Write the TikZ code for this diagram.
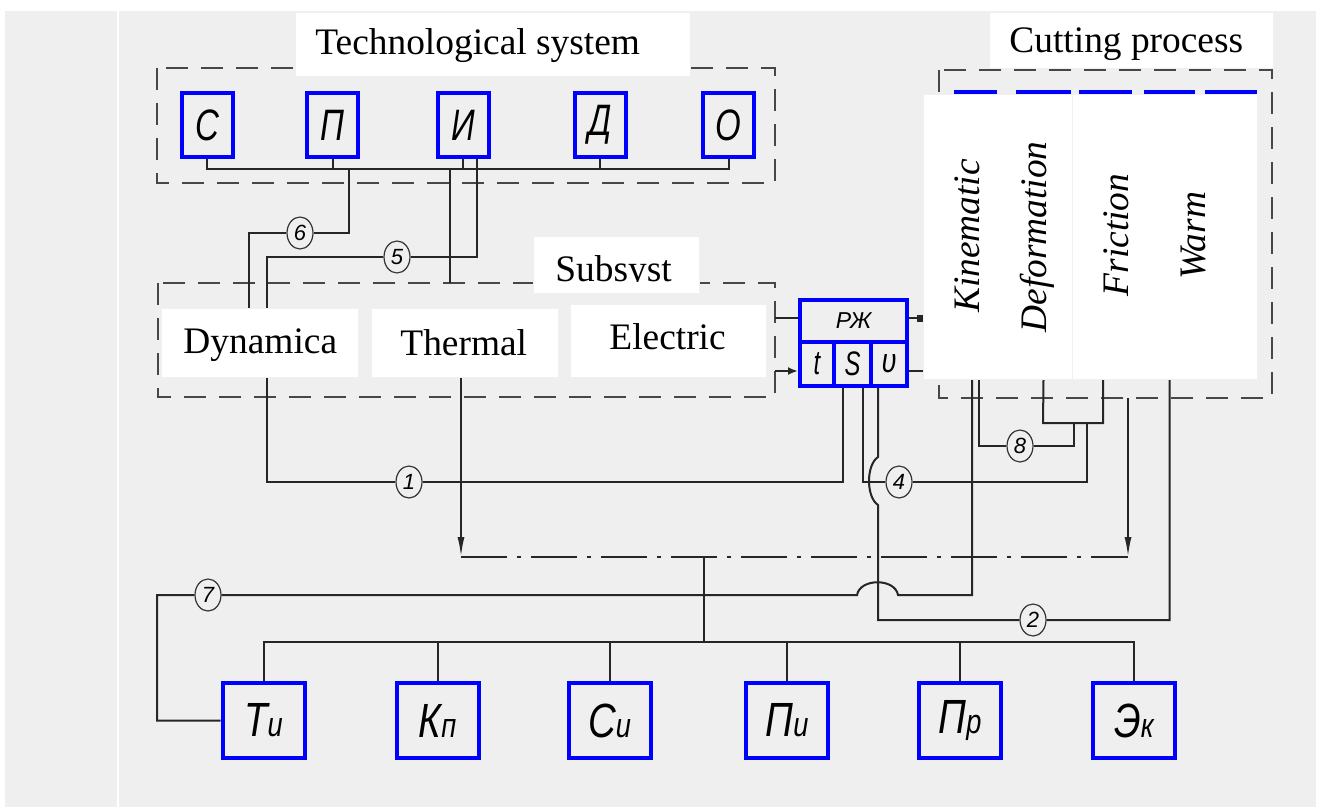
\documentclass[tikz,border=0pt]{standalone}
\usepackage{fontspec}
\setmainfont{Liberation Serif}
\setsansfont{Liberation Sans}
\usepackage{graphicx}
\usetikzlibrary{arrows.meta,shapes.geometric,fit}
\definecolor{paper}{HTML}{EFEFEF}
\definecolor{gost}{HTML}{0000FF}
\newcommand{\twolet}[2]{\scalebox{.8}[1]{#1{\fontsize{17}{17}\selectfont#2}}}

\begin{document}
\begin{tikzpicture}[x=.5pt,y=-.5pt,>=Latex,
  wire/.style={line width=1pt,black!85},
  zone/.style={draw=black!72,line width=1.4pt,dash pattern=on 11pt off 6.5pt},
  blk/.style={draw=gost,line width=2pt,inner sep=0pt,font=\sffamily\itshape},
  pad/.style={fill=white,draw=black!6,line width=.4pt,inner sep=0pt},
  ttl/.style={anchor=base west,inner sep=0pt,font=\fontsize{18.7}{22}\selectfont},
  vtxt/.style={anchor=base,rotate=90,inner sep=0pt,font=\itshape\fontsize{18.7}{22}\selectfont},
  num/.style={ellipse,draw=black!80,line width=.6pt,fill=paper,minimum width=13pt,minimum height=16pt,inner sep=0pt,font=\sffamily\itshape\fontsize{11}{11}\selectfont},
  chain/.style={line width=1pt,black!85,dash pattern=on 23pt off 5pt on 2pt off 5pt}]
  \useasboundingbox (0,0) rectangle (1320,807);
  \fill[white] (0,0) rectangle (1320,807);
  \fill[paper] (5,11) rectangle (1316,807);
  \draw[white,line width=.8pt] (118,11) -- (118,807);

  % groups
  \draw[zone] (157,68) rectangle (775,183);
  \draw[zone] (158,283) rectangle (775,397);
  \draw[zone] (939,70) rectangle (1272,398);

  % blocks
  \foreach \n/\x/\t in {1/207/С,2/332.5/П,3/463/И,4/600/Д,5/728.5/О}
    \node[blk,minimum width=25.5pt,minimum height=32pt,font=\sffamily\itshape\fontsize{22}{24}\selectfont] (ts\n) at (\x,125) {\scalebox{.75}[1]{\t}};
  \foreach \n/\x/\a/\b in {1/263.5/Т/и,2/437.5/К/п,3/609.5/С/и,4/787/П/и,5/960/П/р,6/1134/Э/к}
    \node[blk,minimum width=41pt,minimum height=37.5pt,font=\sffamily\itshape\fontsize{24}{26}\selectfont] (b\n) at (\x,720.5) {\twolet{\a}{\b}};
  \foreach \n/\a/\b in {1/956/995,2/1018/1069,3/1081/1130,4/1146/1193,5/1207/1255}
    \node[blk,fit={(\a,92) (\b,377)}] (cp\n) {};
  \node[blk,minimum width=53.5pt,minimum height=21pt,font=\sffamily\itshape\fontsize{11.5}{12}\selectfont] (rzh) at (853.5,321) {РЖ};
  \node[blk,minimum width=17pt,minimum height=22pt,font=\sffamily\itshape\fontsize{17}{17}\selectfont] (rt) at (817,364) {\scalebox{.7}[1]{t}};
  \node[blk,minimum width=18.5pt,minimum height=22pt,font=\sffamily\itshape\fontsize{17}{17}\selectfont] (rs) at (852.5,364) {\scalebox{.7}[1]{S}};
  \node[blk,minimum width=18pt,minimum height=22pt,font=\sffamily\itshape\fontsize{17}{17}\selectfont] (rv) at (889,364) {\scalebox{.8}[1]{υ}};

  \node[num] (c6) at (300,233) {6};
  \node[num] (c5) at (397,257) {5};
  \node[num] (c1) at (409,482) {1};
  \node[num] (c4) at (899,482) {4};
  \node[num] (c8) at (1020,446) {8};
  \node[num] (c7) at (208,595) {7};
  \node[num] (c2) at (1033,620) {2};

  \coordinate (bt) at (0,169);
  \coordinate (bb) at (0,642);
  \coordinate (j6) at (349,169);
  \coordinate (j5) at (450,169);
  \coordinate (s5) at (450,283);
  \coordinate (d6) at (249,320);
  \coordinate (k5) at (267,482);
  \coordinate (k7) at (157,595);
  \coordinate (h1) at (857,595);
  \coordinate (h2) at (898,595);
  \coordinate (g1) at (878,457);
  \coordinate (g2) at (878,505);
  \coordinate (q2) at (1043,423);
  \coordinate (q3) at (1103,423);
  \coordinate (q4) at (1087,423);
  \coordinate (q8) at (1074,423);
  \coordinate (thb) at (461,377);
  \coordinate (ax1) at (461,557);
  \coordinate (ax2) at (1128,557);
  \coordinate (ax3) at (704,557);
  \coordinate (cpb) at (1128,398);
  \coordinate (sr1) at (775,318);
  \coordinate (sr2) at (775,371);

  % connections
  \draw[wire] (ts1.south) -- (ts1.south |- bt) -| (ts5.south);
  \foreach \n in {2,3,4} \draw[wire] (ts\n.south) -- (ts\n.south |- bt);
  \draw[wire] (j6) |- (c6) -| (d6);
  \draw[wire] (j5) -- (s5);
  \draw[wire] ([xshift=7pt]ts3.south) |- (c5) -| (k5) -- (c1) -| ([xshift=-5pt]rs.south);
  \draw[wire] ([xshift=5pt]rs.south) |- (c4) -| (q4);
  \draw[wire] ([xshift=1.75pt]cp1.south) |- (c8) -| (q8);
  \draw[wire] (cp2.south) -- (q2) -- (q3) -- (q3 |- cp3.south);
  \draw[wire] ([xshift=-5.5pt]rv.south) -- (g1) .. controls +(-12,8) and +(-12,-8) .. (g2) |- (c2) -| (cp4.south);
  \draw[wire] (b1.west) -| (k7) -- (c7) -- (h1) .. controls +(3,-17) and +(-3,-17) .. (h2) -| ([xshift=-1.75pt]cp1.south);
  \draw[wire] (sr1) -- (sr1 -| rzh.west);
  \draw[wire,-{Latex[length=5pt,width=4pt]}] (sr2) -- (sr2 -| rt.west);
  \draw[wire,-{Square[length=4pt,width=3.5pt]}] (rzh.east |- sr1) -- ++(16,0);
  \draw[wire] (rv.east |- sr2) -- ++(16,0);
  \draw[wire,-{Latex[length=10pt,width=3.5pt]}] (thb) -- (ax1);
  \draw[wire,-{Latex[length=10pt,width=3.5pt]}] (cpb) -- (ax2);
  \draw[chain] (ax1) -- (ax2);
  \draw[wire] (ax3) -- (ax3 |- bb);
  \draw[wire] (b1.north) -- (b1.north |- bb) -| (b6.north);
  \foreach \n in {2,...,5} \draw[wire] (b\n.north) -- (b\n.north |- bb);

  % captions
  \node[pad,fit={(295,12) (690,76)}] (tspad) {};
  \node[pad,fit={(989,12) (1273,68)}] (cppad) {};
  \node[pad,fit={(533,236) (699,293)}] (sbpad) {};
  \node[pad,fit={(161,308) (358,377)}] (dypad) {};
  \node[pad,fit={(371,308) (558,377)}] (thpad) {};
  \node[pad,fit={(570,304) (766,377)}] (elpad) {};
  \node[pad,fit={(923,94) (1072,379)}] (kdpad) {};
  \node[pad,fit={(1072,94) (1257,379)}] (fwpad) {};
  \node[ttl] (tstxt) at (315,55) {Technological system};
  \node[ttl] (cptxt) at (1009,53) {Cutting process};
  \begin{scope}
    \clip (533,236) rectangle (699,282);
    \node[ttl] (sbtxt) at (555,282) {Subsyst};
  \end{scope}
  \node[ttl] (dytxt) at (183,353) {Dynamica};
  \node[ttl] (thtxt) at (400,355) {Thermal};
  \node[ttl] (eltxt) at (609,349) {Electric};
  \node[vtxt] (kntxt) at (979,236) {Kinematic};
  \node[vtxt] (dftxt) at (1046,237) {Deformation};
  \node[vtxt] (frtxt) at (1128,235) {Friction};
  \node[vtxt] (wmtxt) at (1205,236) {Warm};
\end{tikzpicture}
\end{document}
